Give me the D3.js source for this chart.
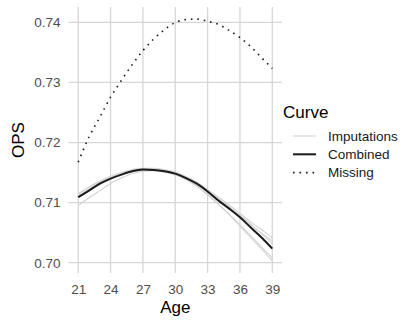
<!DOCTYPE html>
<html>
<head>
<meta charset="utf-8">
<script src="https://cdn.jsdelivr.net/npm/d3@7"></script>
<style>
  body { margin: 0; background: #fff; }
  text { font-family: "Liberation Sans", Arial, sans-serif; }
</style>
</head>
<body>
<svg width="403" height="320"></svg>
<script>
var ages = [21, 22, 23, 24, 25, 26, 27, 28, 29, 30, 31, 32, 33, 34, 35, 36, 37, 38, 39];

var imputations = [
  [0.7095, 0.7108, 0.7120, 0.7132, 0.7141, 0.7148, 0.7152, 0.7153, 0.7151, 0.7148, 0.7141, 0.7132, 0.7120, 0.7106, 0.7093, 0.7079, 0.7064, 0.7049, 0.7036],
  [0.7115, 0.7126, 0.7136, 0.7144, 0.7150, 0.7155, 0.7157, 0.7157, 0.7155, 0.7151, 0.7143, 0.7133, 0.7120, 0.7106, 0.7092, 0.7078, 0.7063, 0.7048, 0.7031],
  [0.7114, 0.7125, 0.7134, 0.7142, 0.7148, 0.7153, 0.7156, 0.7156, 0.7154, 0.7150, 0.7143, 0.7134, 0.7122, 0.7109, 0.7096, 0.7082, 0.7068, 0.7055, 0.7041],
  [0.7112, 0.7122, 0.7132, 0.7140, 0.7147, 0.7152, 0.7155, 0.7155, 0.7152, 0.7147, 0.7139, 0.7128, 0.7114, 0.7098, 0.7081, 0.7063, 0.7045, 0.7026, 0.7008],
  [0.7110, 0.7120, 0.7130, 0.7139, 0.7146, 0.7151, 0.7154, 0.7154, 0.7151, 0.7146, 0.7138, 0.7127, 0.7113, 0.7097, 0.7080, 0.7061, 0.7042, 0.7023, 0.7003]
];

var combined = [0.7109, 0.7120, 0.71315, 0.7140, 0.71466, 0.71522, 0.7155, 0.71544, 0.71522, 0.71483, 0.71409, 0.71315, 0.71186, 0.71035, 0.7090, 0.70755, 0.70587, 0.7042, 0.70235];

var missing = [0.71673, 0.72092, 0.7242, 0.72755, 0.73032, 0.73295, 0.7353, 0.73723, 0.73879, 0.73997, 0.74047, 0.74055, 0.74018, 0.73968, 0.73866, 0.73748, 0.73597, 0.73413, 0.73233];

var xTicks = [21, 24, 27, 30, 33, 36, 39];
var yTicks = [0.70, 0.71, 0.72, 0.73, 0.74];
var legendLabels = ["Imputations", "Combined", "Missing"];

var svg = d3.select("svg");
var panel = { left: 68.5, right: 282, top: 7, bottom: 273 };

// ggplot style 5% expansion
function expand(ext) {
  var pad = (ext[1] - ext[0]) * 0.05;
  return [ext[0] - pad, ext[1] + pad];
}
var allY = d3.merge(imputations).concat(combined, missing);

var x = d3.scaleLinear().domain(expand(d3.extent(ages))).range([panel.left, panel.right]);
var y = d3.scaleLinear().domain(expand(d3.extent(allY))).range([panel.bottom, panel.top]);

var grid = svg.append("g").attr("stroke", "#d6d6d6").attr("stroke-width", 1.3);
grid.selectAll(".gx").data(xTicks).enter().append("line")
  .attr("x1", function (d) { return x(d); }).attr("x2", function (d) { return x(d); })
  .attr("y1", panel.top).attr("y2", panel.bottom);
grid.selectAll(".gy").data(yTicks).enter().append("line")
  .attr("y1", function (d) { return y(d); }).attr("y2", function (d) { return y(d); })
  .attr("x1", panel.left).attr("x2", panel.right);

// axes (labels only, no ticks or domain line)
var xAxis = svg.append("g")
  .attr("transform", "translate(0," + (panel.bottom + 4) + ")")
  .call(d3.axisBottom(x).tickValues(xTicks).tickSize(0).tickPadding(7));
var yAxis = svg.append("g")
  .attr("transform", "translate(" + (panel.left - 5) + ",0)")
  .call(d3.axisLeft(y).tickValues(yTicks).tickFormat(d3.format(".2f")).tickSize(0).tickPadding(3));
[xAxis, yAxis].forEach(function (a) {
  a.select(".domain").remove();
  a.selectAll("text").attr("fill", "#4d4d4d").style("font-size", "13.5px")
    .style("font-family", "'Liberation Sans', Arial, sans-serif");
});

var line = d3.line()
  .x(function (d, i) { return x(ages[i]); })
  .y(function (d) { return y(d); })
  .curve(d3.curveMonotoneX);

svg.append("g").selectAll("path").data(imputations).enter().append("path")
  .attr("d", line).attr("fill", "none").attr("stroke", "#d3d3d3").attr("stroke-width", 1.1);

svg.append("path").datum(combined).attr("d", line)
  .attr("fill", "none").attr("stroke", "#1a1a1a").attr("stroke-width", 2);

svg.append("path").datum(missing).attr("d", line)
  .attr("fill", "none").attr("stroke", "#1a1a1a").attr("stroke-width", 1.6)
  .attr("stroke-dasharray", "1.6,4.9");

// axis titles
svg.append("text").attr("x", (panel.left + panel.right) / 2).attr("y", 313)
  .attr("text-anchor", "middle").style("font-size", "17px").text("Age");
svg.append("text").attr("transform", "translate(24," + (panel.top + panel.bottom) / 2 + ") rotate(-90)")
  .attr("text-anchor", "middle").style("font-size", "17px").text("OPS");

// legend
var styles = [
  { stroke: "#d3d3d3", width: 1.1, dash: null },
  { stroke: "#1a1a1a", width: 2, dash: null },
  { stroke: "#1a1a1a", width: 1.6, dash: "1.6,4.9" }
];
var legend = svg.append("g").attr("transform", "translate(283,0)");
legend.append("text").attr("x", 0).attr("y", 118).style("font-size", "17px").text("Curve");
var item = legend.selectAll(".item").data(legendLabels).enter().append("g")
  .attr("transform", function (d, i) { return "translate(0," + (136 + i * 18.3) + ")"; });
item.append("line").attr("x1", 10).attr("x2", 33).attr("y1", 0).attr("y2", 0)
  .attr("stroke", function (d, i) { return styles[i].stroke; })
  .attr("stroke-width", function (d, i) { return styles[i].width; })
  .attr("stroke-dasharray", function (d, i) { return styles[i].dash; });
item.append("text").attr("x", 45).attr("y", 0).attr("dy", "0.35em")
  .style("font-size", "13.5px").attr("fill", "#1a1a1a").text(function (d) { return d; });
</script>
</body>
</html>
